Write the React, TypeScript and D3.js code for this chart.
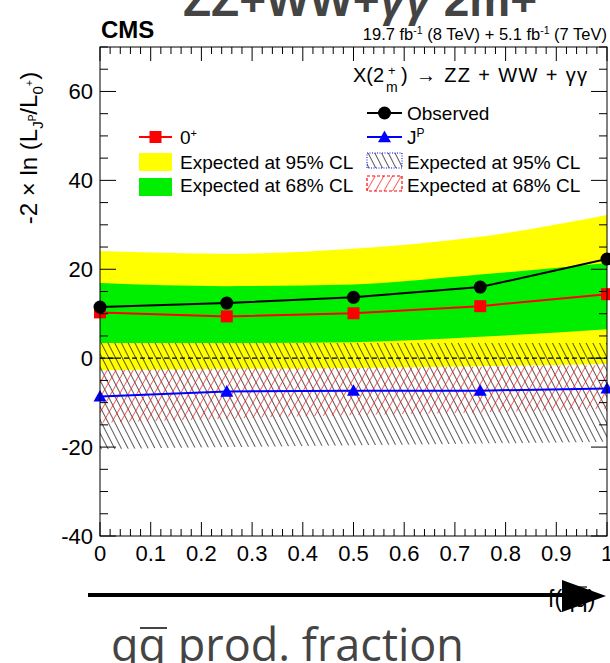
import React from "react";
import * as d3 from "d3";

// ---- data ----
const fracs = [0, 0.25, 0.5, 0.75, 1];
const observed = [11.5, 12.4, 13.7, 16.0, 22.3];
const zeroPlus = [10.3, 9.4, 10.1, 11.7, 14.4];
const jpVals = [-8.6, -7.5, -7.3, -7.3, -6.8];
const yellowHi = [24.1, 23.5, 24.6, 27.3, 32.2];
const yellowLo = [-2.7, -2.4, -2.2, -1.8, -1.3];
const greenHi = [16.9, 16.2, 16.6, 18.8, 21.4];
const greenLo = [3.4, 3.4, 3.6, 4.8, 6.5];
const jp95Hi = [3.4, 3.4, 3.4, 3.4, 3.4];
const jp95Lo = [-20.5, -20.0, -19.6, -19.2, -18.8];
const jp68Hi = [-2.7, -2.4, -2.2, -1.9, -1.6];
const jp68Lo = [-14.5, -13.6, -12.8, -12.2, -11.3];
const xTickLabels = ["0", "0.1", "0.2", "0.3", "0.4", "0.5", "0.6", "0.7", "0.8", "0.9", "1"];
const yTickLabels = [-40, -20, 0, 20, 40, 60];

const W = 610, H = 663;
const L = 100, R = 607, T = 47, B = 536;
const FONT = "'Liberation Sans', Arial, sans-serif";

export default function App() {
  const x = d3.scaleLinear().domain([0, 1]).range([L, R]);
  const y = d3.scaleLinear().domain([-40, 70]).range([B, T]);

  const band = (hi: number[], lo: number[]) =>
    d3
      .area<number>()
      .x((_, i) => x(fracs[i]))
      .y0((_, i) => y(lo[i]))
      .y1((_, i) => y(hi[i]))
      .curve(d3.curveMonotoneX)(fracs.map((_, i) => i)) || "";
  const line = (vals: number[]) =>
    d3
      .line<number>()
      .x((_, i) => x(fracs[i]))
      .y((v) => y(v))(vals) || "";

  const xMinor = d3.range(0, 1.0001, 0.02);
  const yMinor = d3.range(-40, 70.001, 5);
  const tri = (cx: number, cy: number, s: number) =>
    `M${cx},${cy - s}L${cx + s},${cy + s * 0.8}L${cx - s},${cy + s * 0.8}Z`;

  return (
    <svg width={W} height={H} style={{ position: "absolute", left: 0, top: 0 }} fontFamily={FONT}>
      <defs>
        <clipPath id="plot">
          <rect x={L} y={T} width={R - L} height={B - T} />
        </clipPath>
        <pattern id="hatchBlack" patternUnits="userSpaceOnUse" width={6} height={12} patternTransform="rotate(-27)">
          <line x1={0} y1={-1} x2={0} y2={13} stroke="#000" strokeWidth={1.3} />
        </pattern>
        <pattern id="hatchRed" patternUnits="userSpaceOnUse" width={7.5} height={12} patternTransform="rotate(30)">
          <line x1={0} y1={-1} x2={0} y2={13} stroke="#ff1010" strokeWidth={1.3} />
        </pattern>
      </defs>

      {/* top title (cut off) */}
      <text x={360} y={16} textAnchor="middle" fontSize={46} fontWeight="bold" fill="#444">
        ZZ+WW+<tspan fontStyle="italic">γγ</tspan> 2m+
      </text>

      {/* CMS & lumi */}
      <text x={101} y={38} fontSize={24} fontWeight="bold">CMS</text>
      <text x={607} y={40} fontSize={16.5} textAnchor="end">
        19.7 fb<tspan dy={-6} fontSize={10.5}>-1</tspan>
        <tspan dy={6}> (8 TeV) + 5.1 fb</tspan>
        <tspan dy={-6} fontSize={10.5}>-1</tspan>
        <tspan dy={6}> (7 TeV)</tspan>
      </text>

      <g clipPath="url(#plot)">
        <path d={band(yellowHi, yellowLo)} fill="#ffff00" />
        <path d={band(greenHi, greenLo)} fill="#00ee00" />
        <path d={band(jp95Hi, jp95Lo)} fill="url(#hatchBlack)" />
        <path d={band(jp68Hi, jp68Lo)} fill="url(#hatchRed)" />
        <line x1={L} x2={R} y1={y(0)} y2={y(0)} stroke="#000" strokeWidth={1.2} strokeDasharray="5,3" />
        <path d={line(zeroPlus)} fill="none" stroke="#ff0000" strokeWidth={2} />
        <path d={line(observed)} fill="none" stroke="#000" strokeWidth={2} />
        <path d={line(jpVals)} fill="none" stroke="#0000ff" strokeWidth={2} />
      </g>
      <g>
        {zeroPlus.map((v, i) => (
          <rect key={"s" + i} x={x(fracs[i]) - 6} y={y(v) - 6} width={12} height={12} fill="#ff0000" />
        ))}
        {observed.map((v, i) => (
          <circle key={"c" + i} cx={x(fracs[i])} cy={y(v)} r={6.5} fill="#000" />
        ))}
        {jpVals.map((v, i) => (
          <path key={"t" + i} d={tri(x(fracs[i]), y(v), 6.5)} fill="#0000ff" />
        ))}
      </g>

      {/* frame */}
      <rect x={L} y={T} width={R - L} height={B - T} fill="none" stroke="#000" strokeWidth={1} />

      {/* x ticks */}
      {xMinor.map((v, i) => {
        const major = i % 5 === 0;
        const len = major ? 14 : 7;
        return (
          <g key={"xt" + i} stroke="#000" strokeWidth={1}>
            <line x1={x(v)} x2={x(v)} y1={B} y2={B - len} />
            <line x1={x(v)} x2={x(v)} y1={T} y2={T + len} />
          </g>
        );
      })}
      {xTickLabels.map((t, i) => (
        <text key={"xl" + i} x={x(i / 10)} y={561} fontSize={22} textAnchor="middle">
          {t}
        </text>
      ))}

      {/* y ticks */}
      {yMinor.map((v, i) => {
        const major = v % 20 === 0;
        const len = major ? 16 : 8;
        return (
          <g key={"yt" + i} stroke="#000" strokeWidth={1}>
            <line x1={L} x2={L + len} y1={y(v)} y2={y(v)} />
            <line x1={R} x2={R - len} y1={y(v)} y2={y(v)} />
          </g>
        );
      })}
      {yTickLabels.map((t) => (
        <text key={"yl" + t} x={93} y={y(t) + 8} fontSize={22} textAnchor="end">
          {t}
        </text>
      ))}

      {/* y title */}
      <text transform="translate(37,148) rotate(-90)" fontSize={24} textAnchor="middle">
        -2 × ln (L<tspan dy={6} fontSize={15}>J</tspan>
        <tspan dy={-7} fontSize={10}>P</tspan>
        <tspan dy={1} fontSize={24}>/L</tspan>
        <tspan dy={6} fontSize={15}>0</tspan>
        <tspan dy={-10} fontSize={11}>+</tspan>
        <tspan dy={4} fontSize={24}>)</tspan>
      </text>

      {/* legend */}
      <text x={353} y={82} fontSize={20}>X(2</text>
      <text x={388} y={75} fontSize={13}>+</text>
      <text x={386} y={92} fontSize={14}>m</text>
      <text x={401} y={82} fontSize={20} textLength={186} lengthAdjust="spacing">) → ZZ + WW +  γγ</text>

      <line x1={367} x2={402} y1={113} y2={113} stroke="#000" strokeWidth={2} />
      <circle cx={384.5} cy={113} r={6.5} fill="#000" />
      <text x={407} y={120} fontSize={19}>Observed</text>

      <line x1={367} x2={402} y1={137} y2={137} stroke="#0000ff" strokeWidth={2} />
      <path d={tri(384.5, 137, 6.5)} fill="#0000ff" />
      <text x={407} y={144} fontSize={19}>
        J<tspan dy={-7} fontSize={12}>P</tspan>
      </text>

      <rect x={367} y={153} width={35} height={15} fill="url(#hatchBlack)" stroke="#0000ff" strokeWidth={1} strokeDasharray="1,1.5" />
      <text x={407} y={169} fontSize={19}>Expected at 95% CL</text>
      <rect x={367} y={176} width={35} height={15} fill="url(#hatchRed)" stroke="#ff0000" strokeWidth={1.2} strokeDasharray="3,2" />
      <text x={407} y={192} fontSize={19}>Expected at 68% CL</text>

      <line x1={139} x2={172} y1={137} y2={137} stroke="#ff0000" strokeWidth={2} />
      <rect x={149.5} y={131} width={12} height={12} fill="#ff0000" />
      <text x={180} y={144} fontSize={19}>
        0<tspan dy={-7} fontSize={11}>+</tspan>
      </text>
      <rect x={139} y={153} width={33} height={18} fill="#ffff00" />
      <text x={180} y={169} fontSize={19}>Expected at 95% CL</text>
      <rect x={139} y={178} width={33} height={18} fill="#00ee00" />
      <text x={180} y={192} fontSize={19}>Expected at 68% CL</text>

      {/* bottom arrow annotation */}
      <text x={548} y={607} fontSize={23}>f(q<tspan>q</tspan>)</text>
      <line x1={576} x2={587} y1={587} y2={587} stroke="#000" strokeWidth={1.2} />
      <line x1={88} x2={566} y1={595} y2={595} stroke="#000" strokeWidth={4} />
      <path d="M562,580L606,596L562,612Z" fill="#000" />

      <text x={111} y={661} fontSize={45} fill="#444" fontFamily="'Open Sans', 'Noto Sans', sans-serif">
        qq prod. fraction
      </text>
      <line x1={140} x2={167} y1={628} y2={628} stroke="#444" strokeWidth={2} />
    </svg>
  );
}
